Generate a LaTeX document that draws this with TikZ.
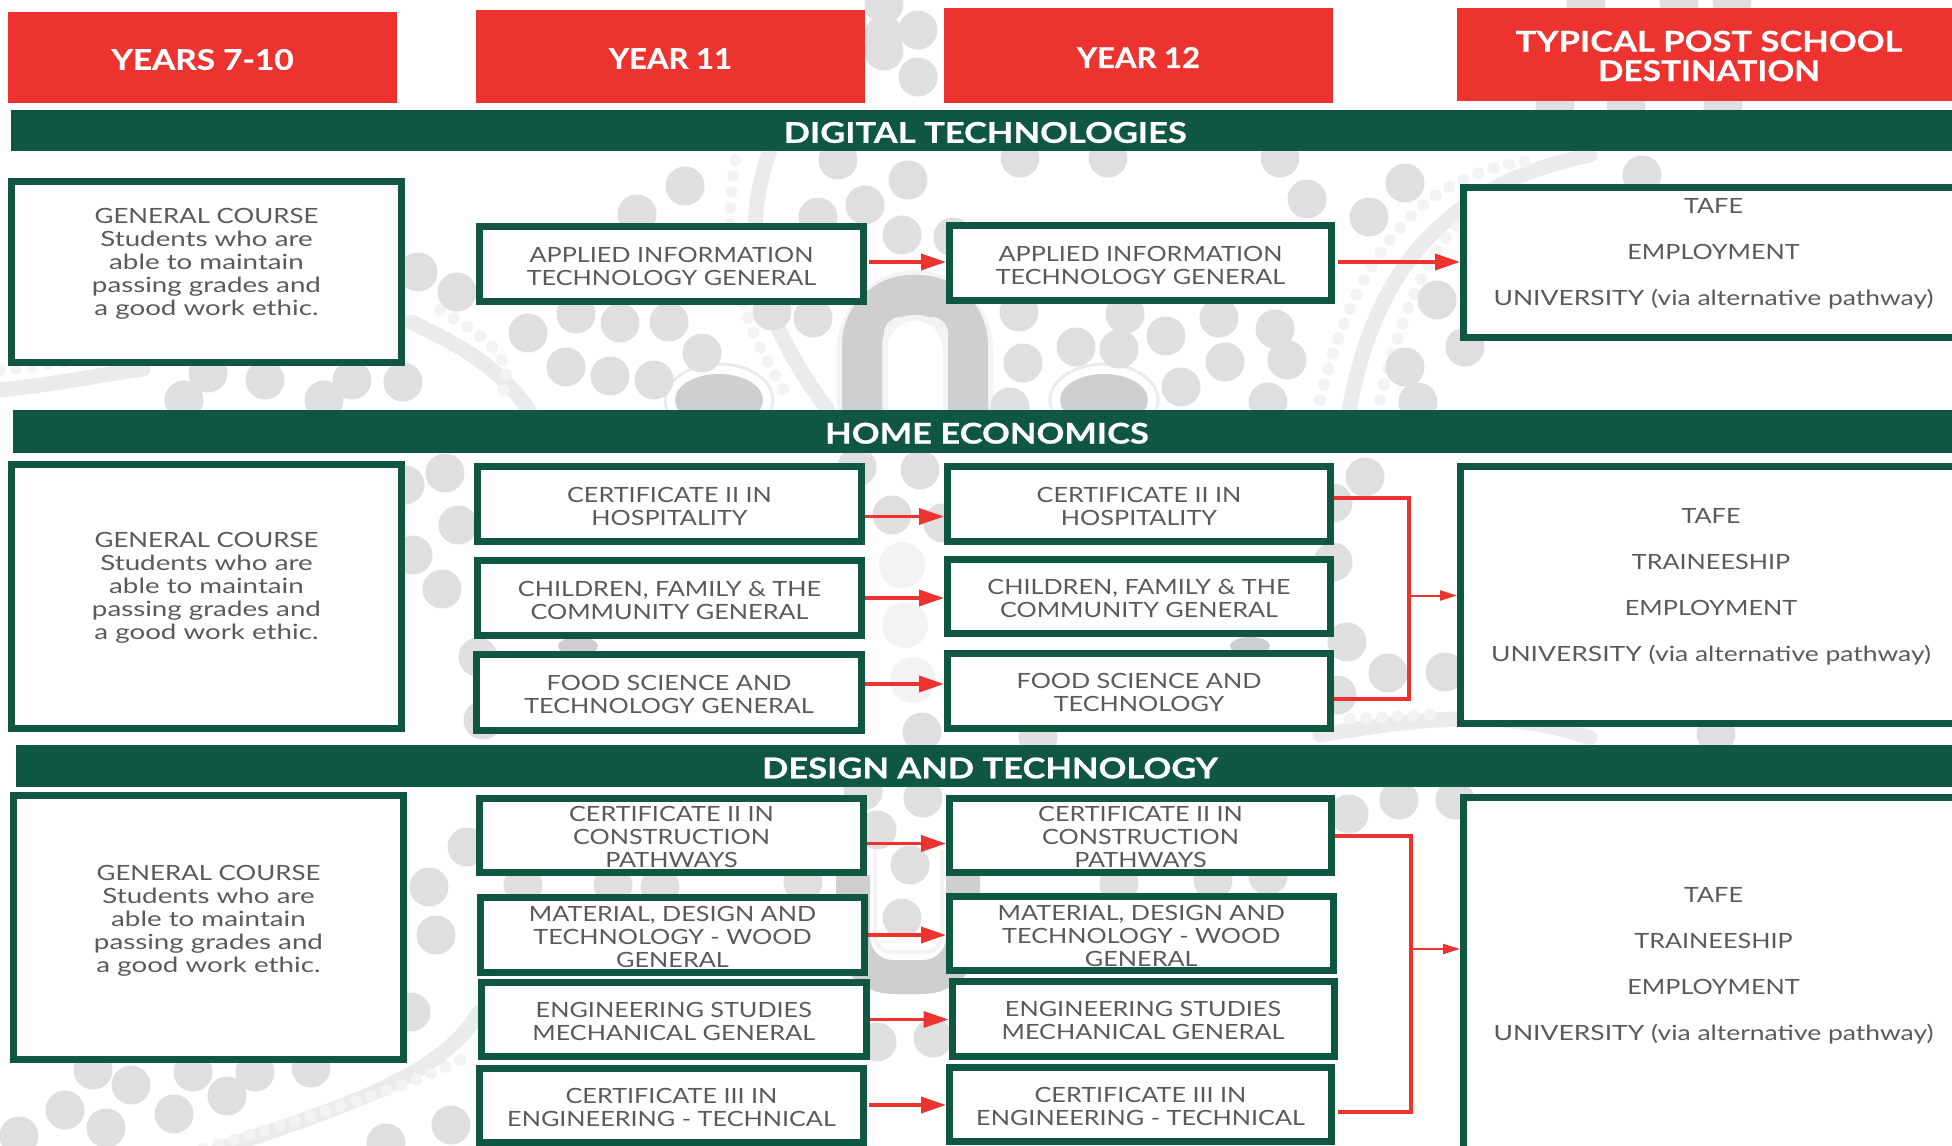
\documentclass[tikz,border=0pt]{standalone}
\usepackage{fontspec}
\usetikzlibrary{arrows.meta}
\newfontfamily\bodyf[FakeStretch=1.2]{Lato}
\newfontfamily\lowf[FakeStretch=1.32]{Lato}
\newfontfamily\uniff[FakeStretch=1.26]{Lato}
\newfontfamily\genf[FakeStretch=1.23]{Lato}
\newfontfamily\headf[FakeStretch=1.21,FakeBold=0.6,BoldFont={}]{Lato Bold}
\newfontfamily\headm[FakeStretch=1.17,FakeBold=0.6,BoldFont={}]{Lato Bold}
\newfontfamily\heads[FakeStretch=1.09,FakeBold=0.6,BoldFont={}]{Lato Bold}
\definecolor{schred}{HTML}{EC3330}
\definecolor{schgreen}{HTML}{0F5643}
\definecolor{schtext}{HTML}{5A5A5E}
\definecolor{dotgrey}{HTML}{DFDFDF}
\definecolor{dotpale}{HTML}{F3F3F3}
\definecolor{archgrey}{HTML}{CFCFCF}
\definecolor{stripegrey}{HTML}{EBEBEB}
\tikzset{
  x=1pt,y=-1pt,
  redhead/.style={fill=schred,draw=none,inner sep=0pt,outer sep=0pt},
  barhead/.style={fill=schgreen,draw=none,inner sep=0pt,outer sep=0pt},
  whitetitle/.style={text=white,font=\headf\fontsize{28.5}{29.5}\selectfont,align=center,inner sep=0pt},
  coursebox/.style={fill=white,draw=schgreen,line width=7pt,inner sep=0pt},
  coursetext/.style={text=schtext,font=\bodyf\fontsize{21}{23}\selectfont,align=center,inner sep=0pt},
  arrowbig/.style={draw=schred,line width=3.6pt,-{Triangle[length=25pt,width=16pt]}},
  arrowsmall/.style={draw=schred,line width=2pt,-{Triangle[length=17pt,width=10pt]}},
  bracketline/.style={draw=schred,line width=4pt},
  bgband/.style={draw=stripegrey,line width=15pt,line cap=round},
  bgbeads/.style={draw=dotpale,line width=12pt,line cap=round,dash pattern=on 0pt off 16pt}
}
% name, x1, y1, x2, y2, text dy, text
\newcommand{\cbox}[7]{%
  \pgfmathsetmacro{\cw}{#4-#2-7}\pgfmathsetmacro{\chh}{#5-#3-7}%
  \pgfmathsetmacro{\cx}{(#2+#4)/2}\pgfmathsetmacro{\cy}{(#3+#5)/2}%
  \pgfmathsetmacro{\ty}{\cy+#6}%
  \node[coursebox,minimum width=\cw pt,minimum height=\chh pt] (#1) at (\cx,\cy) {};
  \node[coursetext] (#1-t) at (\cx,\ty) {#7};
}
\newcommand{\tbar}[8]{%
  \pgfmathsetmacro{\cw}{#5-#3}\pgfmathsetmacro{\chh}{#6-#4}%
  \pgfmathsetmacro{\cx}{(#3+#5)/2}\pgfmathsetmacro{\cy}{(#4+#6)/2}%
  \pgfmathsetmacro{\ty}{\cy+#7}%
  \node[#2,minimum width=\cw pt,minimum height=\chh pt] (#1) at (\cx,\cy) {};
  \node[whitetitle] (#1-t) at (\cx,\ty) {#8};
}
\newcommand{\gctext}{{\genf GENERAL COURSE}\\{\lowf Students who are}\\{\lowf able to maintain}\\{\lowf passing grades and}\\{\lowf a good work ethic.}}
\newcommand{\unitext}{{\uniff UNIVERSITY (via alternative pathway)}}
\begin{document}
\begin{tikzpicture}
\useasboundingbox (0,0) rectangle (1952,1146);
\clip (0,0) rectangle (1952,1146);
\fill[white] (0,0) rectangle (1952,1146);
% ----- background artwork
\draw[dotpale,line width=50pt,rounded corners=55pt] (862,415) -- (862,295) -- (968,295) -- (968,415);
\draw[archgrey,line width=40pt,rounded corners=50pt] (862,415) -- (862,295) -- (968,295) -- (968,415);
\draw[dotpale,line width=4pt,rounded corners=14pt] (886,415) -- (886,319) -- (946,319) -- (946,415);
\draw[archgrey,line width=34pt,rounded corners=40pt] (853,875) -- (853,977) -- (963,977) -- (963,875);
\draw[dotpale,line width=4pt,rounded corners=16pt] (875,850) -- (875,952) -- (942,952) -- (942,850);
\foreach \x in {719,1104}{
  \fill[archgrey] (\x,400) ellipse [x radius=44pt,y radius=26pt];
  \draw[stripegrey,line width=3pt] (\x,400) ellipse [x radius=54pt,y radius=36pt];
}
\fill[archgrey] (578,646) ellipse [x radius=20pt,y radius=9pt];
\fill[archgrey] (1250,646) ellipse [x radius=20pt,y radius=9pt];
\draw[bgband] (411,322) .. controls (470,350) and (500,370) .. (529,410);
\draw[bgband] (770,150) .. controls (745,220) and (745,300) .. (828,410);
\draw[bgband] (1349,410) .. controls (1370,300) and (1420,190) .. (1590,155);
\draw[bgband] (0,390) .. controls (50,385) and (100,375) .. (143,369);
\draw[bgband] (479,1012) .. controls (440,1080) and (330,1110) .. (218,1150);
\draw[bgband] (1320,735) .. controls (1400,722) and (1500,705) .. (1590,738);
\draw[bgbeads] (440,310) .. controls (490,340) and (520,360) .. (500,400);
\draw[bgbeads] (735,160) .. controls (725,230) and (725,300) .. (790,400);
\draw[bgbeads] (1320,400) .. controls (1345,300) and (1395,170) .. (1540,160);
\draw[bgbeads] (1380,400) .. controls (1400,320) and (1430,230) .. (1490,200);
\draw[bgbeads] (0,370) .. controls (50,365) and (100,355) .. (143,350);
\draw[bgbeads] (460,1060) .. controls (400,1090) and (300,1120) .. (200,1150);
\draw[bgbeads] (1350,719) -- (1442,714);
\foreach \x/\y in {902/565,905/625,913/680}
  \fill[dotpale] (\x,\y) circle [radius=23pt];
\foreach \x/\y in {685/186,637/214,838/160,908/180,865/205,818/217,902/235,953/237,884/51,918/77,
  884/4,528/333,576/314,620/323,566/367,610/376,654/380,702/353,669/322,772/311,813/318,
  457/292,418/272,403/382,352/380,265/380,208/373,324/400,184/400,
  1307/199,1405/183,1369/217,1437/300,1465/347,1405/367,1287/360,1225/362,1275/329,1219/318,
  1166/336,1119/349,1076/347,1019/312,1023/363,1010/407,1125/314,1181/387,1642/175,1268/402,1418/402,
  445/473,405/485,458/525,413/555,442/589,478/657,483/720,920/470,892/515,943/523,922/732,857/467,
  1365/477,1333/503,1333/562,1347/642,1388/673,1445/672,1337/695,
  1038/737,1716/734,467/847,429/887,436/935,411/1012,910/865,902/918,877/830,923/798,877/1042,933/1038,803/882,863/791,
  131/1085,65/1110,106/1128,174/1114,227/1096,19/1136,193/1072,255/1072,311/1068,93/1070,
  451/1125,386/1143,1349/814,1399/800,1455/800,523/885,613/885,660/887,1119/884,1213/880,1268/876,
  1586/2,1679/2,1732/2,1555/105,1626/105,1723/105,1020/158,1108/158,1280/158,
  918/30,884/35}
  \fill[dotgrey] (\x,\y) circle [radius=19.5pt];
% ----- column headers
\tbar{h1}{redhead}{8}{12}{397}{103}{2}{{\headm YEARS 7-10}}
\tbar{h2}{redhead}{476}{10}{865}{103}{2}{{\heads YEAR 11}}
\tbar{h3}{redhead}{944}{8}{1333}{103}{2}{{\heads YEAR 12}}
\tbar{h4}{redhead}{1457}{8}{1961}{101}{1.5}{TYPICAL POST SCHOOL\\{\headm DESTINATION}}
% ----- section bars
\tbar{b1}{barhead}{10.5}{110}{1960}{151}{2}{DIGITAL TECHNOLOGIES}
\tbar{b2}{barhead}{13}{410}{1961}{452.5}{2}{HOME ECONOMICS}
\tbar{b3}{barhead}{16}{745}{1964}{787}{2}{DESIGN AND TECHNOLOGY}
% ----- digital technologies
\cbox{gc1}{8}{177.5}{405}{366}{-8}{\gctext}
\cbox{ait11}{476}{223}{867}{305}{2}{APPLIED INFORMATION\\TECHNOLOGY GENERAL}
\cbox{ait12}{946}{222}{1335}{304}{2}{APPLIED INFORMATION\\TECHNOLOGY GENERAL}
\cbox{d1}{1460}{184}{1967}{340.5}{-8}{TAFE\\[23pt]EMPLOYMENT\\[23pt]\unitext}
% ----- home economics
\cbox{gc2}{8}{461}{405}{731.5}{-8}{\gctext}
\cbox{ch11}{474}{463}{865}{545}{2}{CERTIFICATE II IN\\HOSPITALITY}
\cbox{ch12}{944}{463}{1334}{545}{2}{CERTIFICATE II IN\\HOSPITALITY}
\cbox{cf11}{474}{557}{865}{639}{2}{CHILDREN, FAMILY \& THE\\COMMUNITY GENERAL}
\cbox{cf12}{944}{555.5}{1334}{637}{2}{CHILDREN, FAMILY \& THE\\COMMUNITY GENERAL}
\cbox{fs11}{473}{651}{865}{733.5}{2}{FOOD SCIENCE AND\\TECHNOLOGY GENERAL}
\cbox{fs12}{944}{650}{1334}{731.5}{2}{FOOD SCIENCE AND\\TECHNOLOGY}
\cbox{d2}{1457}{463}{1965}{726.5}{-7.5}{TAFE\\[23pt]TRAINEESHIP\\[23pt]EMPLOYMENT\\[23pt]\unitext}
% ----- design and technology
\cbox{gc3}{10}{792}{407}{1063}{-7}{\gctext}
\cbox{cp11}{476}{794.5}{867}{876}{2}{CERTIFICATE II IN\\CONSTRUCTION\\PATHWAYS}
\cbox{cp12}{946}{794.5}{1335}{876}{2}{CERTIFICATE II IN\\CONSTRUCTION\\PATHWAYS}
\cbox{md11}{477}{894}{868}{976}{2}{MATERIAL, DESIGN AND\\TECHNOLOGY - WOOD\\GENERAL}
\cbox{md12}{946}{893}{1336.5}{974}{2}{MATERIAL, DESIGN AND\\TECHNOLOGY - WOOD\\GENERAL}
\cbox{es11}{478}{979}{869.5}{1060}{2}{ENGINEERING STUDIES\\MECHANICAL GENERAL}
\cbox{es12}{948.5}{977.5}{1337.5}{1059.5}{2}{ENGINEERING STUDIES\\MECHANICAL GENERAL}
\cbox{ce11}{476}{1064.5}{867}{1146}{2}{CERTIFICATE III IN\\ENGINEERING - TECHNICAL}
\cbox{ce12}{946}{1063.5}{1335}{1145}{2}{CERTIFICATE III IN\\ENGINEERING - TECHNICAL}
\cbox{d3}{1460}{794}{1967}{1180}{-21.5}{TAFE\\[23pt]TRAINEESHIP\\[23pt]EMPLOYMENT\\[23pt]\unitext}
% ----- connectors
\draw[arrowbig] ([xshift=2pt]ait11.east |- 0,262) -- (ait12.west |- 0,262);
\draw[arrowbig] ([xshift=3pt]ait12.east |- 0,262) -- (d1.west |- 0,262);
\draw[arrowbig] (ch11.east |- 0,516.5) -- (ch12.west |- 0,516.5);
\draw[arrowbig] (cf11.east |- 0,598) -- (cf12.west |- 0,598);
\draw[arrowbig] (fs11.east |- 0,684) -- (fs12.west |- 0,684);
\draw[arrowbig] (cp11.east |- 0,843.5) -- (cp12.west |- 0,843.5);
\draw[arrowbig] (md11.east |- 0,935) -- (md12.west |- 0,935);
\draw[arrowbig] (es11.east |- 0,1019.5) -- (es12.west |- 0,1019.5);
\draw[arrowbig] ([xshift=2pt]ce11.east |- 0,1105) -- (ce12.west |- 0,1105);
\coordinate (hejoin) at (1408.5,595.5);
\draw[bracketline] (ch12.east |- 0,498) -| (hejoin) |- (fs12.east |- 0,698.5);
\draw[arrowsmall] (hejoin) -- (d2.west |- hejoin);
\coordinate (dtjoin) at (1410.5,949);
\draw[bracketline] (cp12.east |- 0,836) -| (dtjoin) |- ([xshift=3pt]ce12.east |- 0,1111.5);
\draw[arrowsmall] (dtjoin) -- (d3.west |- dtjoin);
\end{tikzpicture}
\end{document}
